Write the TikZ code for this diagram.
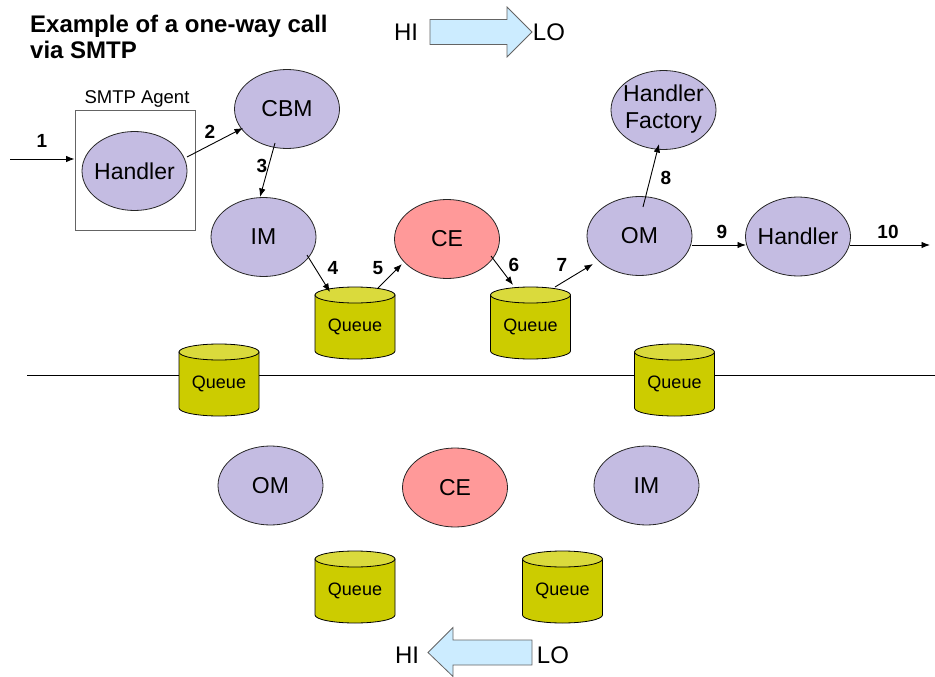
\documentclass[tikz,border=0pt]{standalone}
\usepackage{fontspec}
\setmainfont{Liberation Sans}
\usetikzlibrary{shapes.geometric,arrows.meta,calc}
\definecolor{lav}{RGB}{196,188,226}
\definecolor{cered}{RGB}{255,153,153}
\definecolor{qbodyc}{RGB}{204,204,0}
\definecolor{qtopc}{RGB}{218,218,60}
\definecolor{bigarr}{RGB}{204,236,255}
\definecolor{boxgray}{RGB}{100,100,100}
\newcommand\qcyl[3]{%
  \path[fill=qbodyc,draw=black,line width=0.8pt] (#2-40,#3+8) -- (#2-40,#3+64)
    arc[start angle=180,end angle=0,x radius=40,y radius=8] -- (#2+40,#3+8) -- cycle;
  \path[fill=qtopc,draw=black,line width=0.8pt] (#2,#3+8) ellipse[x radius=40,y radius=8];
  \node[qlabel] (#1) at (#2,#3+40) {Queue};%
}
\begin{document}
\begin{tikzpicture}[x=1pt,y=-1pt,
  proc/.style={ellipse,draw=black!85,line width=0.8pt,fill=lav,inner sep=0pt,
    minimum width=105pt,minimum height=79pt,font=\fontsize{23}{27}\selectfont},
  engine/.style={proc,fill=cered},
  qlabel/.style={inner sep=0pt,minimum width=80pt,minimum height=64pt,
    font=\fontsize{18}{21}\selectfont},
  num/.style={inner sep=0pt,font=\bfseries\fontsize{19}{22}\selectfont},
  big/.style={inner sep=0pt,font=\fontsize{24}{28}\selectfont},
  ttl/.style={inner sep=0pt,anchor=base west,font=\bfseries\fontsize{24}{28}\selectfont},
  arr/.style={-{Latex[length=8.5pt,width=6.5pt]},line width=0.9pt},
  agentbox/.style={draw=boxgray,line width=0.9pt,minimum width=120pt,minimum height=120pt,inner sep=0pt},
  flowarrow/.style={fill=bigarr,draw=boxgray,line width=0.8pt}
]
\useasboundingbox (0,0) rectangle (935,677);

% title
\node[ttl] (t1) at (30,33) {Example of a one-way call};
\node[ttl] (t2) at (30,59) {via SMTP};

% direction arrows
\path[flowarrow] (430,19.5) -- (507,19.5) -- (507,7) -- (532,32) -- (507,57) -- (507,44.5) -- (430,44.5) -- cycle;
\node[big] (hi1) at (406,32) {HI};
\node[big] (lo1) at (549,32) {LO};
\path[flowarrow] (532,640) -- (453,640) -- (453,627.5) -- (428,652.5) -- (453,676.5) -- (453,665) -- (532,665) -- cycle;
\node[big] (hi2) at (407,655) {HI};
\node[big] (lo2) at (553,655) {LO};

% separator
\coordinate (sepL) at (27,375);
\coordinate (sepR) at (935,375);
\draw[line width=0.9pt] (sepL) -- (sepR);

% SMTP agent
\node[agentbox] (agent) at (135,170) {};
\node[inner sep=0pt,anchor=base,font=\fontsize{18.5}{22}\selectfont] (agentlbl) at (137,103) {SMTP Agent};

% top row
\node[proc] (h1) at (134.5,171) {\makebox[0pt]{Handler}};
\node[proc] (cbm) at (287,109) {\makebox[0pt]{CBM}};
\node[proc] (im) at (263.5,237) {\makebox[0pt]{IM}};
\node[engine] (ce) at (447,239) {\makebox[0pt]{CE}};
\node[proc] (om) at (639.5,236) {\makebox[0pt]{OM}};
\node[proc] (hf) at (663.5,110) {\makebox[0pt]{\begin{tabular}{@{}c@{}}Handler\\Factory\end{tabular}}};
\node[proc] (h2) at (798,236.5) {\makebox[0pt]{Handler}};

\qcyl{q1}{355}{287}
\qcyl{q2}{530.5}{287}
\qcyl{q3}{219}{344}
\qcyl{q4}{674.5}{344}

% bottom row
\node[proc] (bom) at (270.5,485.5) {\makebox[0pt]{OM}};
\node[engine] (bce) at (455,487.5) {\makebox[0pt]{CE}};
\node[proc] (bim) at (646.5,485.5) {\makebox[0pt]{IM}};
\qcyl{q5}{355}{551}
\qcyl{q6}{562.5}{551}

% connectors
\coordinate (in1) at (10,159);
\coordinate (out10) at (930,245);
\draw[arr] (in1) -- (in1 -| agent.west);
\draw[arr] ($(h1)+(52.5,-14)$) -- ($(cbm)+(-44,19)$);
\draw[arr] ($(cbm)+(-12,34)$) -- ($(im)+(-3.5,-40)$);
\draw[arr] ($(im)+(43.5,18)$) -- ($(q1)+(-25,-35)$);
\draw[arr] ($(q1)+(23,-39)$) -- ($(ce)+(-45,25)$);
\draw[arr] ($(ce)+(44,17)$) -- ($(q2)+(-17.5,-42)$);
\draw[arr] ($(q2)+(24.5,-40)$) -- ($(om)+(-46.5,28)$);
\draw[arr] ($(om)+(3.5,-29)$) -- ($(hf)+(-4.5,34)$);
\draw[arr] ($(om)+(52.5,9)$) -- ($(h2)+(-52,8.5)$);
\draw[arr] ($(h2)+(52,8.5)$) -- (out10);

% step numbers
\node[num] (n1) at (42,141) {1};
\node[num] (n2) at (210,132) {2};
\node[num] (n3) at (262,166) {3};
\node[num] (n4) at (333,268) {4};
\node[num] (n5) at (378,268) {5};
\node[num] (n6) at (514,265) {6};
\node[num] (n7) at (562,265) {7};
\node[num] (n8) at (666,178) {8};
\node[num] (n9) at (722,232) {9};
\node[num] (n10) at (888,232) {10};
\end{tikzpicture}
\end{document}
